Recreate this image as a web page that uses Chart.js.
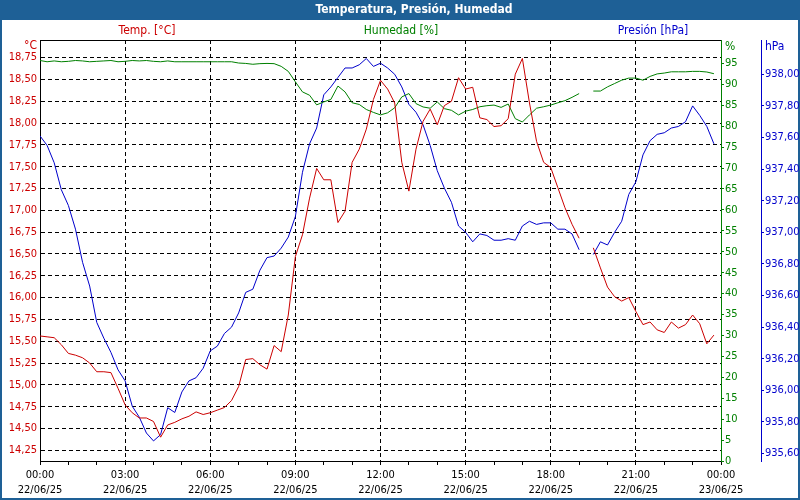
<!DOCTYPE html>
<html>
<head>
<meta charset="utf-8">
<title>Temperatura, Presión, Humedad</title>
<script src="https://cdn.jsdelivr.net/npm/chart.js@4.4.1/dist/chart.umd.min.js"></script>
<style>
  html, body { margin: 0; padding: 0; background: #fff; }
  canvas { display: block; }
</style>
</head>
<body>
<canvas id="meteo" width="800" height="500"></canvas>
<script>
// Datos del día (cada 15 min), null = sin lectura
const hours = [
  0, 0.25, 0.5, 0.75, 1, 1.25, 1.5, 1.75, 2, 2.25, 2.5, 2.75,
  3, 3.25, 3.5, 3.75, 4, 4.25, 4.5, 4.75, 5, 5.25, 5.5, 5.75,
  6, 6.25, 6.5, 6.75, 7, 7.25, 7.5, 7.75, 8, 8.25, 8.5, 8.75,
  9, 9.25, 9.5, 9.75, 10, 10.25, 10.5, 10.75, 11, 11.25, 11.5, 11.75,
  12, 12.25, 12.5, 12.75, 13, 13.25, 13.5, 13.75, 14, 14.25, 14.5, 14.75,
  15, 15.25, 15.5, 15.75, 16, 16.25, 16.5, 16.75, 17, 17.25, 17.5, 17.75,
  18, 18.25, 18.5, 18.75, 19, 19.25, 19.5, 19.75, 20, 20.25, 20.5, 20.75,
  21, 21.25, 21.5, 21.75, 22, 22.25, 22.5, 22.75, 23, 23.25, 23.5, 23.75
];

const temperatura = [
  15.56, 15.55, 15.54, 15.46, 15.36, 15.34, 15.31, 15.25, 15.15, 15.15, 15.14, 14.96,
  14.77, 14.68, 14.62, 14.62, 14.58, 14.40, 14.54, 14.57, 14.61, 14.64, 14.69, 14.66,
  14.68, 14.71, 14.74, 14.82, 14.98, 15.29, 15.30, 15.23, 15.18, 15.45, 15.38, 15.80,
  16.47, 16.72, 17.14, 17.48, 17.35, 17.35, 16.86, 16.99, 17.55, 17.70, 17.93, 18.27,
  18.49, 18.39, 18.23, 17.55, 17.22, 17.70, 18.02, 18.16, 17.98, 18.20, 18.25, 18.52,
  18.39, 18.41, 18.06, 18.04, 17.96, 17.97, 18.05, 18.56, 18.74, 18.23, 17.79, 17.55,
  17.49, 17.26, 17.03, 16.84, 16.68, null, 16.57, 16.34, 16.12, 16.01, 15.96, 16.00,
  15.84, 15.69, 15.72, 15.63, 15.60, 15.72, 15.65, 15.69, 15.80, 15.70, 15.47, 15.57
];

const humedad = [
  95.7, 95.4, 95.6, 95.4, 95.5, 95.7, 95.6, 95.4, 95.5, 95.6, 95.7, 95.4,
  95.5, 95.7, 95.6, 95.7, 95.5, 95.4, 95.6, 95.4, 95.4, 95.4, 95.4, 95.4,
  95.4, 95.4, 95.4, 95.4, 95.1, 95.0, 94.8, 94.95, 95.0, 94.95, 94.3, 93.1,
  90.6, 88.2, 87.4, 85.1, 85.8, 86.4, 89.6, 88.2, 85.6, 85.2, 84.0, 83.3,
  82.7, 83.2, 84.4, 87.0, 87.8, 85.4, 84.6, 84.3, 85.8, 84.2, 83.8, 82.7,
  83.6, 84.0, 84.65, 84.9, 85.05, 84.5, 85.3, 81.8, 81.0, 82.7, 84.3, 84.65,
  85.05, 85.6, 86.1, 86.9, 87.8, null, 88.4, 88.4, 89.4, 90.2, 91.0, 91.5,
  91.5, 91.0, 91.9, 92.5, 92.7, 93.0, 93.0, 93.0, 93.1, 93.1, 92.95, 92.55
];

const presion = [
  937.61, 937.55, 937.44, 937.27, 937.17, 937.02, 936.81, 936.66, 936.43, 936.33, 936.24, 936.13,
  936.06, 935.90, 935.83, 935.73, 935.68, 935.72, 935.89, 935.86, 935.99, 936.06, 936.08, 936.14,
  936.25, 936.28, 936.36, 936.40, 936.49, 936.62, 936.64, 936.76, 936.84, 936.85, 936.90, 936.97,
  937.10, 937.38, 937.56, 937.66, 937.87, 937.92, 937.98, 938.04, 938.04, 938.06, 938.10, 938.05,
  938.07, 938.04, 938.00, 937.92, 937.81, 937.76, 937.68, 937.55, 937.39, 937.28, 937.19, 937.04,
  937.00, 936.94, 936.99, 936.98, 936.95, 936.95, 936.96, 936.95, 937.04, 937.07, 937.05, 937.06,
  937.06, 937.02, 937.02, 936.99, 936.89, null, 936.86, 936.94, 936.92, 937.00, 937.07, 937.24,
  937.32, 937.49, 937.58, 937.62, 937.63, 937.66, 937.67, 937.70, 937.80, 937.74, 937.67, 937.56
];

// Marcas de los ejes
const hourTicks = [0, 1, 2, 3, 4, 5, 6, 7, 8, 9, 10, 11, 12, 13, 14, 15, 16, 17, 18, 19, 20, 21, 22, 23, 24];
const timeLabels = ['00:00', '03:00', '06:00', '09:00', '12:00', '15:00', '18:00', '21:00', '00:00'];
const dateLabels = ['22/06/25', '22/06/25', '22/06/25', '22/06/25', '22/06/25', '22/06/25', '22/06/25', '22/06/25', '23/06/25'];
const tempTicks = [14.25, 14.5, 14.75, 15, 15.25, 15.5, 15.75, 16, 16.25, 16.5, 16.75, 17, 17.25, 17.5, 17.75, 18, 18.25, 18.5, 18.75];
const humTicks = [0, 5, 10, 15, 20, 25, 30, 35, 40, 45, 50, 55, 60, 65, 70, 75, 80, 85, 90, 95];
const presTicks = [935.6, 935.8, 936.0, 936.2, 936.4, 936.6, 936.8, 937.0, 937.2, 937.4, 937.6, 937.8, 938.0];

const RED = '#cc0000';
const GREEN = '#008000';
const BLUE = '#0000cc';
const FONT = "'DejaVu Sans Condensed', 'DejaVu Sans', sans-serif";

Chart.defaults.font.family = FONT;
Chart.defaults.font.size = 11;

function toPoints(values) {
  return hours.map((h, i) => ({ x: h, y: values[i] }));
}

function comma(v, d) {
  return v.toFixed(d).replace('.', ',');
}

const decor = {
  id: 'decor',
  beforeDraw(chart) {
    const { ctx, width, height } = chart;
    ctx.save();
    ctx.fillStyle = '#ffffff';
    ctx.fillRect(0, 0, width, height);
    ctx.fillStyle = '#1e6096';
    ctx.fillRect(0, 0, width, 20);
    ctx.strokeStyle = '#1e6096';
    ctx.lineWidth = 2;
    ctx.strokeRect(1, 1, width - 2, height - 2);

    ctx.textBaseline = 'middle';
    ctx.textAlign = 'center';
    ctx.fillStyle = '#ffffff';
    ctx.font = 'bold 12px ' + FONT;
    ctx.fillText('Temperatura, Presión, Humedad', 414, 10);

    ctx.font = '12px ' + FONT;
    ctx.fillStyle = RED;
    ctx.fillText('Temp. [°C]', 147, 31);
    ctx.fillStyle = GREEN;
    ctx.fillText('Humedad [%]', 401, 31);
    ctx.fillStyle = BLUE;
    ctx.fillText('Presión [hPa]', 653, 31);

    ctx.textAlign = 'right';
    ctx.fillStyle = RED;
    ctx.fillText('°C', 37, 46);
    ctx.textAlign = 'left';
    ctx.fillStyle = GREEN;
    ctx.fillText('%', 725, 47);
    ctx.fillStyle = BLUE;
    ctx.fillText('hPa', 765, 47);
    ctx.restore();
  },
  afterDraw(chart) {
    const { ctx, chartArea } = chart;
    ctx.save();
    ctx.strokeStyle = '#000';
    ctx.lineWidth = 1;
    ctx.beginPath();
    ctx.moveTo(chartArea.left, chartArea.top + 0.5);
    ctx.lineTo(chartArea.right, chartArea.top + 0.5);
    ctx.stroke();
    ctx.restore();
  }
};

function lineSet(label, values, color, axis) {
  return {
    label: label,
    data: toPoints(values),
    yAxisID: axis,
    borderColor: color,
    backgroundColor: color,
    borderWidth: 1,
    pointRadius: 0,
    tension: 0,
    spanGaps: false
  };
}

new Chart(document.getElementById('meteo').getContext('2d'), {
  type: 'line',
  data: {
    datasets: [
      lineSet('Temp. [°C]', temperatura, RED, 'yT'),
      lineSet('Humedad [%]', humedad, GREEN, 'yH'),
      lineSet('Presión [hPa]', presion, BLUE, 'yP')
    ]
  },
  options: {
    responsive: false,
    animation: false,
    devicePixelRatio: 1,
    layout: { padding: { top: 40, left: 0, right: 0, bottom: 0 } },
    plugins: {
      legend: { display: false },
      title: { display: false },
      tooltip: { enabled: false }
    },
    scales: {
      x: {
        type: 'linear',
        position: 'bottom',
        min: 0,
        max: 24,
        afterBuildTicks: (scale) => { scale.ticks = hourTicks.map(v => ({ value: v })); },
        afterFit: (scale) => { scale.height = 39; },
        grid: {
          color: (ctx) => (ctx.tick && ctx.tick.value % 3 === 0) ? '#000' : 'rgba(0,0,0,0)',
          tickColor: '#000',
          tickLength: 4,
          lineWidth: 1
        },
        border: { color: '#000', width: 1, dash: [4, 3] },
        ticks: {
          color: '#000',
          autoSkip: false,
          maxRotation: 0,
          padding: 2,
          font: { size: 11, lineHeight: 1.4 },
          callback: (v) => v % 3 === 0 ? [timeLabels[v / 3], dateLabels[v / 3]] : ''
        }
      },
      yT: {
        type: 'linear',
        position: 'left',
        min: 14.127,
        max: 18.952,
        afterBuildTicks: (scale) => { scale.ticks = tempTicks.map(v => ({ value: v })); },
        afterFit: (scale) => { scale.width = 40; },
        grid: { color: '#000', drawTicks: false, lineWidth: 1 },
        border: { color: '#000', width: 1, dash: [4, 3] },
        ticks: { color: RED, padding: 3, callback: (v) => comma(v, 2) }
      },
      yH: {
        type: 'linear',
        position: 'right',
        min: 0,
        max: 100.6,
        afterBuildTicks: (scale) => { scale.ticks = humTicks.map(v => ({ value: v })); },
        afterFit: (scale) => { scale.width = 40; },
        grid: { drawOnChartArea: false, drawTicks: true, tickLength: 3, tickColor: GREEN, color: GREEN },
        border: { color: GREEN, width: 1 },
        ticks: { color: GREEN, padding: 1, callback: (v) => String(v) }
      },
      yP: {
        type: 'linear',
        position: 'right',
        min: 935.553,
        max: 938.217,
        afterBuildTicks: (scale) => { scale.ticks = presTicks.map(v => ({ value: v })); },
        afterFit: (scale) => { scale.width = 39; },
        grid: { drawOnChartArea: false, drawTicks: true, tickLength: 3, tickColor: BLUE, color: BLUE },
        border: { color: BLUE, width: 1 },
        ticks: { color: BLUE, padding: 1, callback: (v) => comma(v, 2) }
      }
    }
  },
  plugins: [decor]
});
</script>
</body>
</html>
